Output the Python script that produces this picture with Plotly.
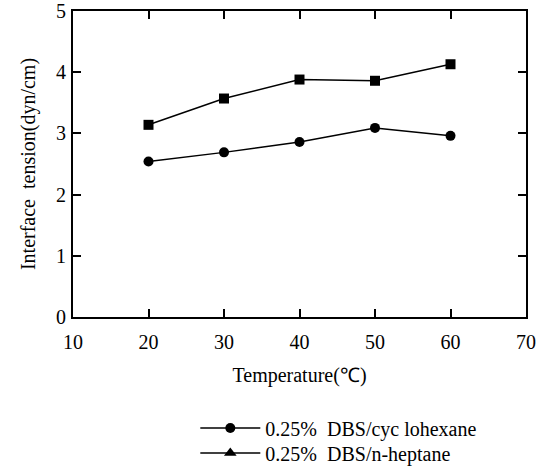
import plotly.graph_objects as go

temps = [20, 30, 40, 50, 60]
cyclohexane = [2.54, 2.69, 2.86, 3.09, 2.96]
heptane = [3.14, 3.57, 3.88, 3.86, 4.13]
x_ticks = [10, 20, 30, 40, 50, 60, 70]
y_ticks = [0, 1, 2, 3, 4, 5]

FONT = "Liberation Serif, Times New Roman, serif"

fig = go.Figure()
fig.add_trace(go.Scatter(
    x=temps, y=cyclohexane, mode="lines+markers",
    name="0.25%  DBS/cyc lohexane", legend="legend",
    line=dict(color="black", width=1.5),
    marker=dict(symbol="circle", size=10, color="black"),
))
fig.add_trace(go.Scatter(
    x=temps, y=heptane, mode="lines+markers",
    name="0.25%  DBS/n-heptane", showlegend=False,
    line=dict(color="black", width=1.5),
    marker=dict(symbol="square", size=10, color="black"),
))
fig.add_trace(go.Scatter(
    x=[None], y=[None], mode="lines+markers",
    name="0.25%  DBS/n-heptane", legend="legend2",
    line=dict(color="black", width=1.5),
    marker=dict(symbol="triangle-up", size=11, color="black"),
))

leg_common = dict(xanchor="left", yanchor="middle", bgcolor="rgba(0,0,0,0)",
                  font=dict(family=FONT, size=20), itemwidth=60)

fig.update_layout(
    width=552, height=466,
    margin=dict(l=73, r=26, t=11, b=149, autoexpand=False),
    paper_bgcolor="white", plot_bgcolor="white",
    font=dict(family=FONT, color="black", size=18),
    showlegend=True,
    legend=dict(x=0.27, y=-(428 - 317) / 306, **leg_common),
    legend2=dict(x=0.27, y=-(453 - 317) / 306, **leg_common),
)
fig.update_xaxes(
    range=[10, 70], tickvals=x_ticks, ticktext=[str(v) for v in x_ticks],
    showgrid=False, zeroline=False,
    showline=True, linecolor="black", linewidth=2, mirror="ticks",
    ticks="inside", ticklen=8, tickwidth=1.5, tickcolor="black",
    tickfont=dict(family=FONT, size=20), ticklabelstandoff=6,
    title=dict(text="Temperature(℃)", font=dict(family=FONT, size=20), standoff=16),
)
fig.update_yaxes(
    range=[0, 5], tickvals=y_ticks, ticktext=[str(v) for v in y_ticks],
    showgrid=False, zeroline=False,
    showline=True, linecolor="black", linewidth=2, mirror="ticks",
    ticks="inside", ticklen=8, tickwidth=1.5, tickcolor="black",
    tickfont=dict(family=FONT, size=20), ticklabelstandoff=1,
    title=dict(text="Interface  tension(dyn/cm)", font=dict(family=FONT, size=20), standoff=15),
)

fig.write_html("out.html")
